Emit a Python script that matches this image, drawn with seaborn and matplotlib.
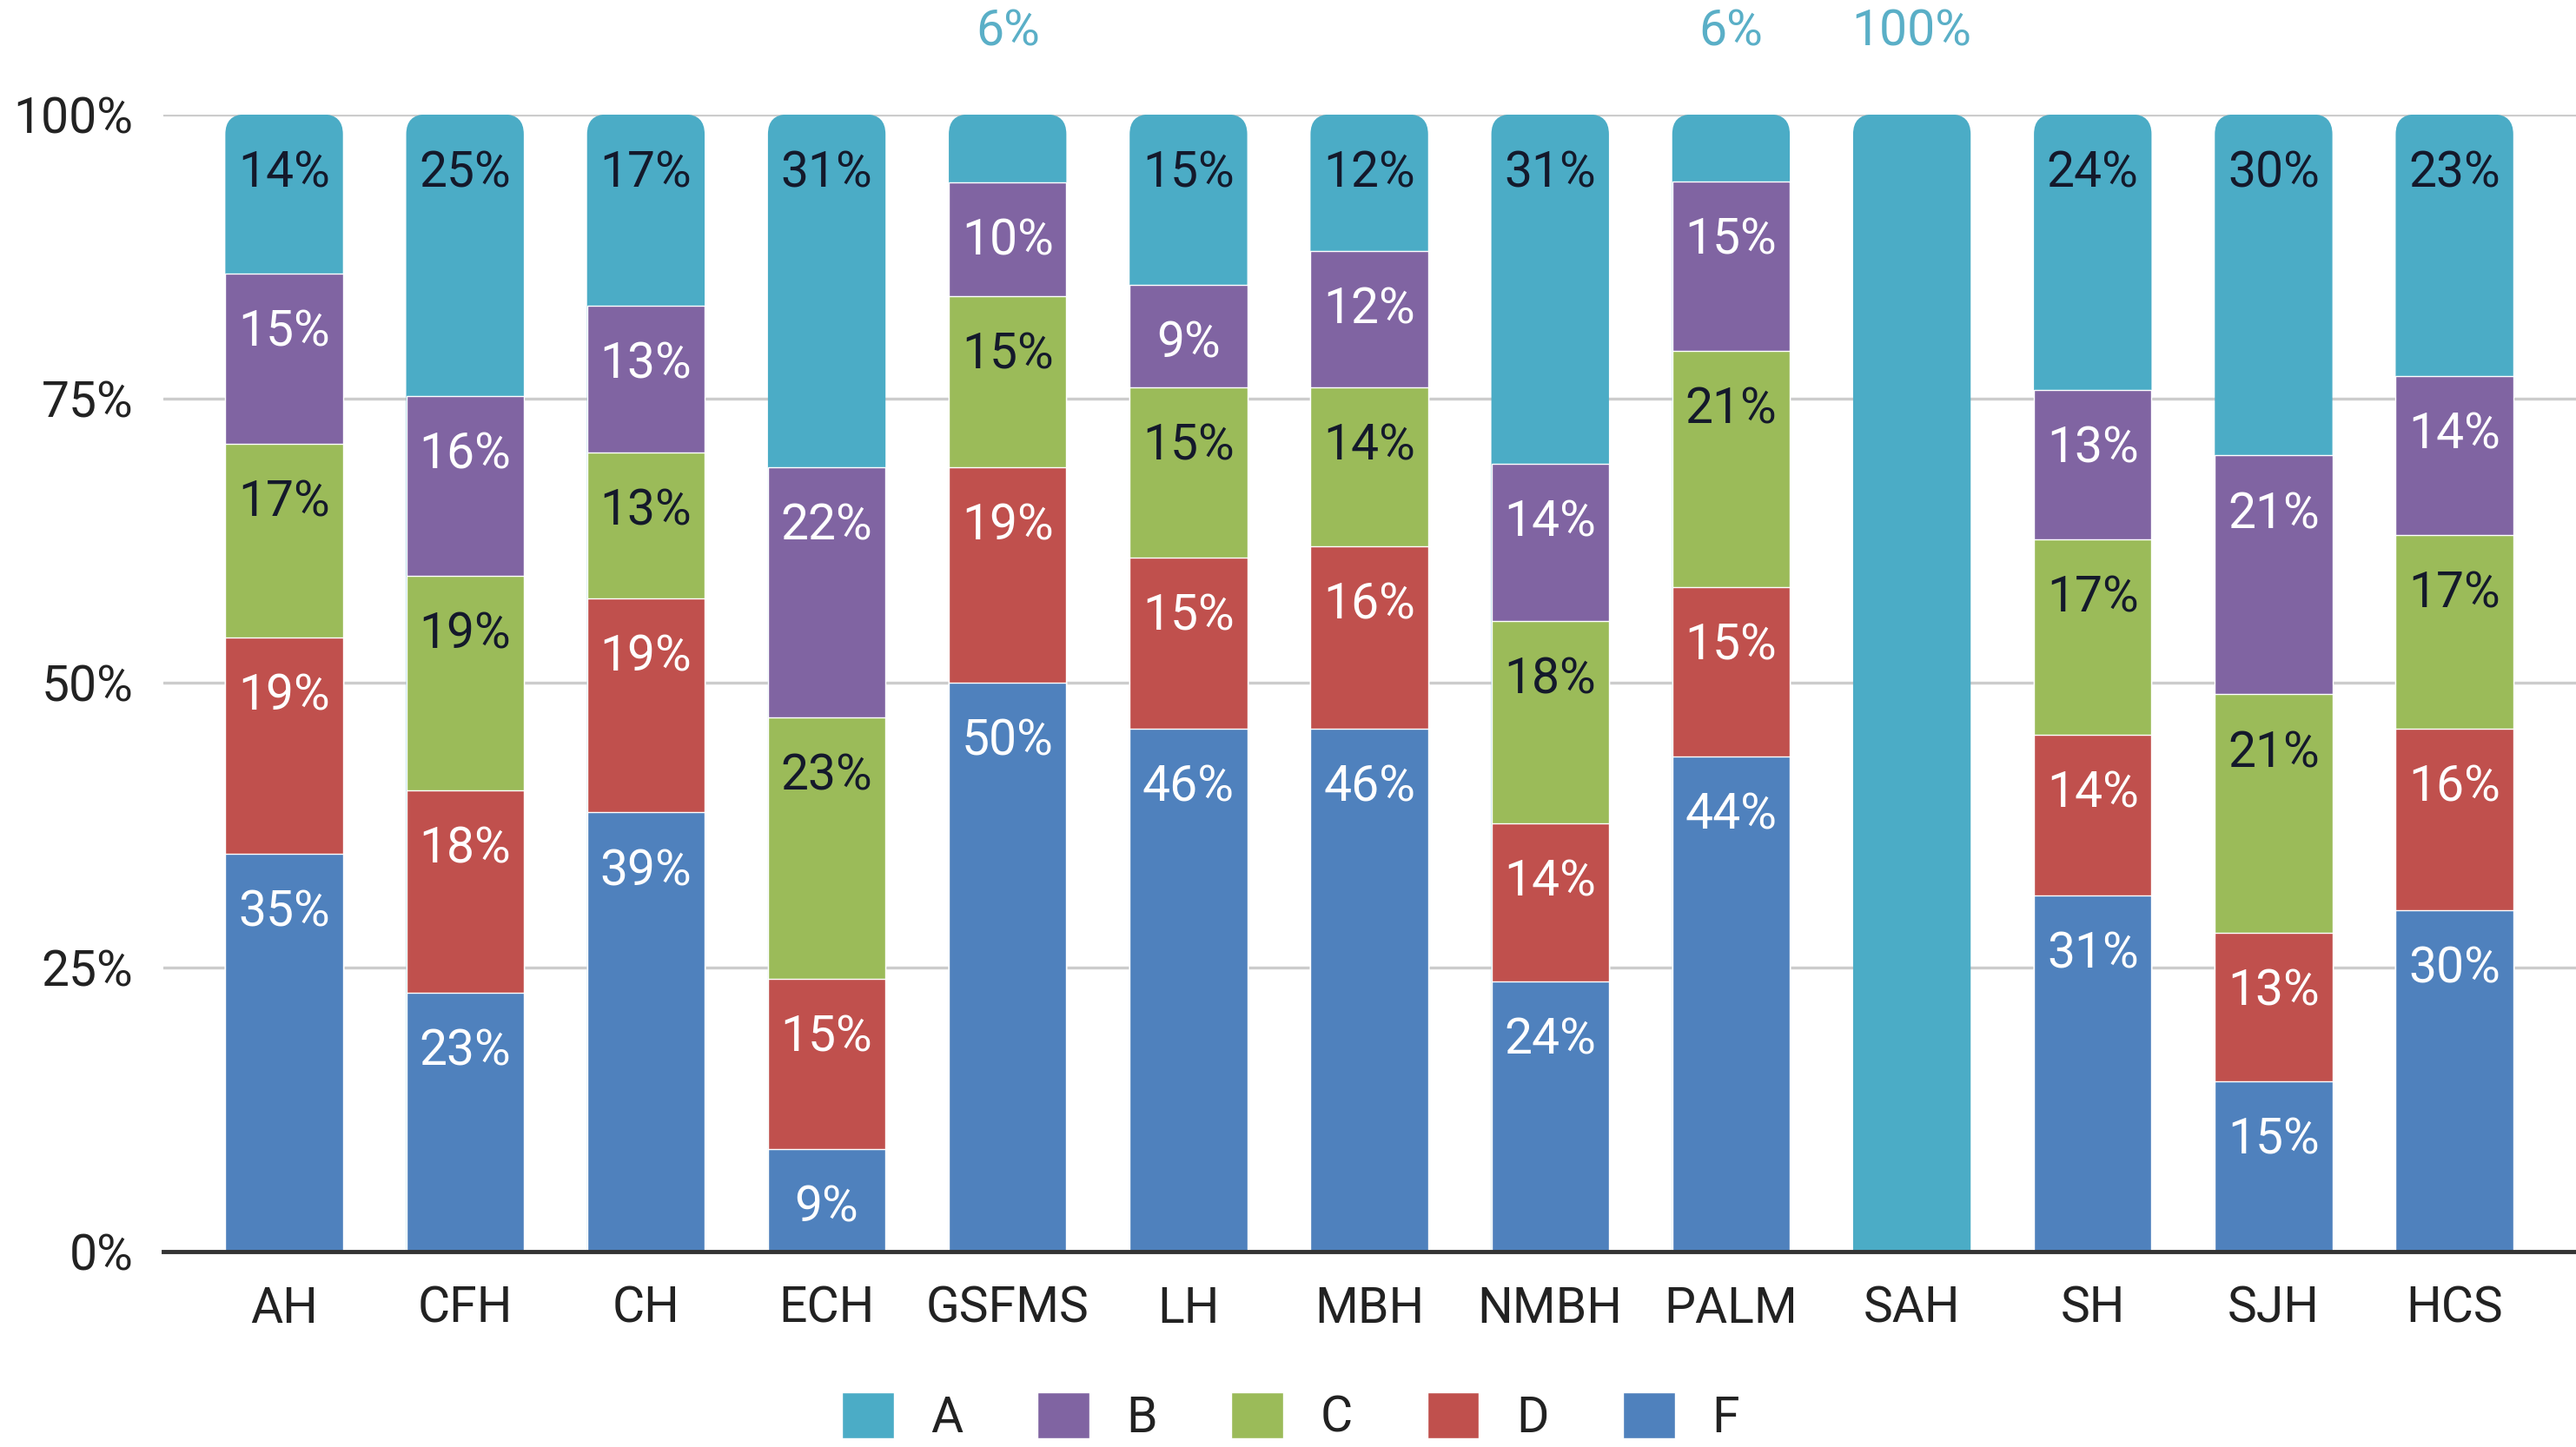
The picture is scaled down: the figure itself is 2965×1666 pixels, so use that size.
import numpy as np
import pandas as pd
import matplotlib
matplotlib.use("Agg")
import matplotlib.pyplot as plt
import seaborn as sns
from matplotlib.patches import FancyBboxPatch, Patch

sites = ["AH", "CFH", "CH", "ECH", "GSFMS", "LH", "MBH", "NMBH", "PALM", "SAH", "SH", "SJH", "HCS"]
grade_a = [14, 25, 17, 31, 6, 15, 12, 31, 6, 100, 24, 30, 23]
grade_b = [15, 16, 13, 22, 10, 9, 12, 14, 15, 0, 13, 21, 14]
grade_c = [17, 19, 13, 23, 15, 15, 14, 18, 21, 0, 17, 21, 17]
grade_d = [19, 18, 19, 15, 19, 15, 16, 14, 15, 0, 14, 13, 16]
grade_f = [35, 23, 39, 9, 50, 46, 46, 24, 44, 0, 31, 15, 30]

grades = ["A", "B", "C", "D", "F"]
colors = {"A": "#4BACC6", "B": "#8064A2", "C": "#9BBB59", "D": "#C0504D", "F": "#4F81BD"}
text_colors = {"A": "#14192b", "B": "white", "C": "#14192b", "D": "white", "F": "white"}
outside_color = "#5AAFC7"

sns.set_style("white")
plt.rcParams['font.family'] = ['Roboto', 'DejaVu Sans']

df = pd.DataFrame({"site": sites, "A": grade_a, "B": grade_b, "C": grade_c,
                   "D": grade_d, "F": grade_f})
# shares normalised per site so every bar reaches 100%
total = df[grades].sum(axis=1)
stack_order = ["F", "D", "C", "B", "A"]  # bottom -> top
cum = pd.DataFrame({"site": sites})
running = np.zeros(len(sites))
for g in stack_order:
    running = running + df[g].values / total.values * 100
    cum[g] = running

fig = plt.figure(figsize=(29.65, 16.66), dpi=100)
ax = fig.add_axes([0.0634, 0.135, 0.9366, 0.786])

bar_w = 0.65
for g in ["A", "B", "C", "D", "F"]:
    n_before = len(ax.patches)
    sns.barplot(data=cum, x="site", y=g, order=sites, color=colors[g],
                width=bar_w, saturation=1, errorbar=None, ax=ax, zorder=2)
    if g == "A":
        # rounded tops for the outer bars
        px_per_x = 0.9366 * 2965 / 13.34
        px_per_y = 0.786 * 1666 / 100
        for p in list(ax.patches[n_before:]):
            x0, w, h = p.get_x(), p.get_width(), p.get_height()
            p.remove()
            rb = FancyBboxPatch((x0, -4), w, h + 4,
                                boxstyle="round,pad=0,rounding_size=0.11",
                                mutation_aspect=px_per_x / px_per_y,
                                facecolor=colors[g], edgecolor="none", zorder=2)
            ax.add_patch(rb)

for i, s in enumerate(sites):
    for g in stack_order:
        v = df.loc[i, g]
        if v == 0:
            continue
        top = cum.loc[i, g]
        label = f"{v}%"
        if g == "A" and (v < 8 or len(label) > 3):
            ax.text(i, 107.2, label, ha="center", va="center", fontsize=41,
                    color=outside_color, clip_on=False)
        else:
            ax.annotate(label, (i, top), xytext=(0, -49), textcoords="offset points",
                        ha="center", va="center", fontsize=41,
                        color=text_colors[g], zorder=3)

ax.set_ylim(0, 100)
ax.set_xlim(-0.668, 12.672)
ax.set_yticks([0, 25, 50, 75, 100])
ax.set_yticklabels(["0%", "25%", "50%", "75%", "100%"])
ax.yaxis.grid(True, color="#cccccc", linewidth=2.4)
ax.set_axisbelow(True)
ax.set_xlabel("")
ax.set_ylabel("")
for side in ["top", "right", "left"]:
    ax.spines[side].set_visible(False)
ax.spines["bottom"].set_color("#333333")
ax.spines["bottom"].set_linewidth(3.5)
ax.spines["bottom"].set_zorder(4)
ax.tick_params(axis="y", length=0, pad=25, labelsize=41, labelcolor="#222222")
ax.tick_params(axis="x", length=0, pad=28, labelsize=41, labelcolor="#222222")

handles = [Patch(facecolor=colors[g], label=g) for g in grades]
fig.legend(handles=handles, loc="center", bbox_to_anchor=(0.501, 0.0205), ncol=5,
           frameon=False, fontsize=41, handlelength=1.05, handleheight=1.05,
           handletextpad=0.75, columnspacing=1.5, labelcolor="#222222")

fig.savefig("out.png", dpi=100)
